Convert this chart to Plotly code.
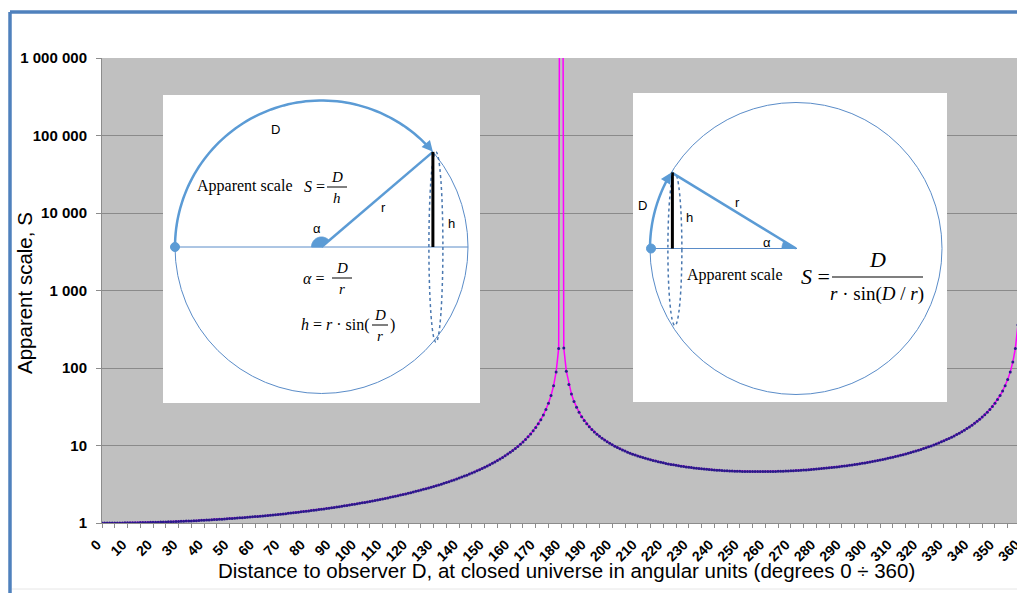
import numpy as np
import plotly.graph_objects as go

# ---------------- data ----------------
degrees = list(range(0, 361))
x_tick_vals = list(range(0, 361, 5))
x_tick_text = [str(v) if v % 10 == 0 else "" for v in x_tick_vals]
y_tick_vals = [1, 10, 100, 1000, 10000, 100000, 1000000]
y_tick_text = ["1", "10", "100", "1 000", "10 000", "100 000", "1 000 000"]

scale_0_90 = [1, 1, 1, 1, 1.001, 1.001, 1.002, 1.002, 1.003, 1.004,
              1.005, 1.006, 1.007, 1.009, 1.01, 1.012, 1.013, 1.015, 1.017, 1.019,
              1.021, 1.023, 1.025, 1.027, 1.03, 1.032, 1.035, 1.038, 1.041, 1.044,
              1.047, 1.051, 1.054, 1.058, 1.061, 1.065, 1.069, 1.073, 1.077, 1.082,
              1.086, 1.091, 1.096, 1.1, 1.106, 1.111, 1.116, 1.122, 1.127, 1.133,
              1.139, 1.145, 1.152, 1.158, 1.165, 1.172, 1.179, 1.186, 1.194, 1.201,
              1.209, 1.217, 1.226, 1.234, 1.243, 1.252, 1.261, 1.27, 1.28, 1.29,
              1.3, 1.311, 1.321, 1.332, 1.344, 1.355, 1.367, 1.379, 1.392, 1.405,
              1.418, 1.431, 1.445, 1.46, 1.474, 1.489, 1.505, 1.521, 1.537, 1.554,
              1.571]
scale_91_180 = [1.588, 1.607, 1.625, 1.645, 1.664, 1.685, 1.706, 1.727, 1.749, 1.772,
                1.796, 1.82, 1.845, 1.871, 1.897, 1.925, 1.953, 1.982, 2.012, 2.043,
                2.075, 2.108, 2.143, 2.178, 2.215, 2.253, 2.292, 2.333, 2.375, 2.418,
                2.464, 2.511, 2.56, 2.611, 2.663, 2.718, 2.775, 2.835, 2.897, 2.962,
                3.029, 3.1, 3.174, 3.251, 3.332, 3.417, 3.506, 3.6, 3.698, 3.801,
                3.91, 4.026, 4.147, 4.276, 4.412, 4.557, 4.711, 4.874, 5.049, 5.236,
                5.436, 5.651, 5.882, 6.131, 6.401, 6.694, 7.013, 7.361, 7.744, 8.165,
                8.631, 9.15, 9.73, 10.38, 11.13, 11.98, 12.96, 14.1, 15.46, 17.09,
                19.08, 21.57, 24.78, 29.05, 35.04, 44.04, 59.03, 89.02, 179, 2.6e16]
scale_181_270 = [181, 91.02, 61.03, 46.04, 37.05, 31.06, 26.78, 23.58, 21.09, 19.1,
                 17.47, 16.12, 14.97, 14, 13.15, 12.41, 11.76, 11.18, 10.67, 10.21,
                 9.789, 9.411, 9.068, 8.754, 8.466, 8.202, 7.958, 7.733, 7.524, 7.33,
                 7.15, 6.982, 6.826, 6.679, 6.542, 6.414, 6.293, 6.18, 6.074, 5.974,
                 5.879, 5.791, 5.707, 5.628, 5.554, 5.483, 5.417, 5.355, 5.296, 5.24,
                 5.188, 5.138, 5.092, 5.048, 5.007, 4.968, 4.932, 4.898, 4.866, 4.837,
                 4.809, 4.784, 4.76, 4.738, 4.718, 4.7, 4.683, 4.668, 4.655, 4.643,
                 4.633, 4.625, 4.617, 4.612, 4.608, 4.605, 4.603, 4.604, 4.605, 4.608,
                 4.612, 4.618, 4.625, 4.633, 4.643, 4.654, 4.666, 4.68, 4.696, 4.712]
scale_271_360 = [4.731, 4.75, 4.771, 4.794, 4.818, 4.844, 4.871, 4.9, 4.93, 4.962,
                 4.996, 5.032, 5.069, 5.108, 5.15, 5.193, 5.238, 5.285, 5.335, 5.386,
                 5.44, 5.497, 5.555, 5.617, 5.681, 5.748, 5.818, 5.891, 5.967, 6.046,
                 6.129, 6.215, 6.306, 6.4, 6.498, 6.601, 6.709, 6.822, 6.94, 7.063,
                 7.192, 7.328, 7.47, 7.619, 7.775, 7.94, 8.112, 8.295, 8.486, 8.689,
                 8.902, 9.128, 9.367, 9.621, 9.889, 10.17, 10.48, 10.8, 11.15, 11.52,
                 11.92, 12.34, 12.8, 13.3, 13.83, 14.42, 15.05, 15.75, 16.51, 17.35,
                 18.28, 19.32, 20.48, 21.78, 23.26, 24.96, 26.92, 29.21, 31.92, 35.18,
                 39.16, 44.14, 50.55, 59.11, 71.09, 89.07, 119.1, 179, 359, 2.6e16]
apparent_scale = scale_0_90 + scale_91_180 + scale_181_270 + scale_271_360

# ---------------- layout helpers (screen pixel -> paper) ----------------
OFF = 8                      # page body margin of the html page
W, H = 1025 - OFF, 593 - OFF
ML, MR, MT, MB = 102 - OFF, 3, 58 - OFF, 70
PW = W - ML - MR
PH = H - MT - MB


def X(x):
    return (x - OFF - ML) / PW


def Y(y):
    return (H - MB - (y - OFF)) / PH


SANS = "Liberation Sans, Arial, sans-serif"
SERIF = "Liberation Serif, Times New Roman, serif"
BLUE = "#5B9BD5"
THIN = "#5A8CC8"
DOT = "#4A78B0"

shapes = []
annotations = []


def line(x0, y0, x1, y1, color, width, layer="above"):
    shapes.append(dict(type="line", xref="paper", yref="paper",
                       x0=X(x0), y0=Y(y0), x1=X(x1), y1=Y(y1),
                       line=dict(color=color, width=width), layer=layer))


def rect(x0, y0, x1, y1, fill):
    shapes.append(dict(type="rect", xref="paper", yref="paper",
                       x0=X(x0), y0=Y(y0), x1=X(x1), y1=Y(y1),
                       fillcolor=fill, line=dict(width=0), layer="above"))


def ellipse(cx, cy, rx, ry, color, width, fill=None, dash=None):
    ln = dict(color=color, width=width)
    if dash:
        ln["dash"] = dash
    d = dict(type="circle", xref="paper", yref="paper",
             x0=X(cx - rx), y0=Y(cy + ry), x1=X(cx + rx), y1=Y(cy - ry),
             line=ln, layer="above")
    if fill:
        d["fillcolor"] = fill
    shapes.append(d)


def arc_points(cx, cy, r, a0, a1, n=80):
    ts = np.radians(np.linspace(a0, a1, n))
    return [(cx + r * np.cos(t), cy - r * np.sin(t)) for t in ts]


def path(points, color, width, fill=None, close=False):
    p = "M " + " L ".join(f"{X(a):.5f},{Y(b):.5f}" for a, b in points)
    if close:
        p += " Z"
    d = dict(type="path", xref="paper", yref="paper", path=p,
             line=dict(color=color, width=width), layer="above")
    if fill:
        d["fillcolor"] = fill
    shapes.append(d)


def text(x, y, s, size, family=SANS, xanchor="center", color="black"):
    annotations.append(dict(xref="paper", yref="paper", x=X(x), y=Y(y),
                            text=s, showarrow=False, xanchor=xanchor,
                            yanchor="middle",
                            font=dict(size=size, family=family, color=color)))


def arrowhead(x, y, dx, dy):
    annotations.append(dict(xref="paper", yref="paper", x=X(x), y=Y(y),
                            text="", showarrow=True, ax=-dx * 9, ay=-dy * 9,
                            arrowhead=2, arrowsize=1.1, arrowwidth=2,
                            arrowcolor=BLUE))


# ---------------- frame ----------------
line(10, 12, 1025, 12, "#4F81BD", 3.5)
line(10, 12, 10, 593, "#4F81BD", 3.5)
line(12, 589, 1025, 589, "#E6E6E6", 1)

# ---------------- left inset ----------------
rect(163, 95, 480, 403, "white")
cx, cy, R = 321.5, 247, 146.5
ellipse(cx, cy, R, R, THIN, 1)
line(175, cy, 468, cy, THIN, 1)
a_end = 40.5
end = (cx + R * np.cos(np.radians(a_end)), cy - R * np.sin(np.radians(a_end)))
path(arc_points(cx, cy, 10, a_end, 180) + [(cx, cy)], BLUE, 1, fill=BLUE, close=True)
ellipse(end[0] + 3, cy, 7, cy - end[1], DOT, 1.5, dash="dot")
path(arc_points(cx, cy, R, 180, a_end + 1.5), BLUE, 2.5)
arrowhead(end[0], end[1], np.sin(np.radians(a_end)), np.cos(np.radians(a_end)))
line(cx, cy, end[0], end[1], BLUE, 2.5)
line(end[0], end[1], end[0], cy, "black", 3)
ellipse(175, cy, 4.5, 4.5, BLUE, 1, fill=BLUE)

text(275, 130, "D", 13)
text(245, 186, "Apparent scale", 16, SERIF)
text(314, 186, "<i>S</i> =", 16, SERIF)
text(337, 177, "<i>D</i>", 15, SERIF)
line(327, 187, 347, 187, "black", 1)
text(337, 198, "<i>h</i>", 15, SERIF)
text(383, 207, "r", 13)
text(451, 223, "h", 13)
text(317, 228, "α", 13)
text(313, 278, "<i>α</i> =", 16, SERIF)
text(342, 268, "<i>D</i>", 15, SERIF)
line(332, 278, 352, 278, "black", 1)
text(342, 289, "<i>r</i>", 15, SERIF)
text(372, 325, "<i>h</i> = <i>r</i> · sin(", 16, SERIF, xanchor="right")
text(380, 315, "<i>D</i>", 15, SERIF)
line(372, 325, 388, 325, "black", 1)
text(380, 336, "<i>r</i>", 15, SERIF)
text(388, 325, ")", 16, SERIF, xanchor="left")

# ---------------- right inset ----------------
rect(633, 93, 947, 402, "white")
cx2, cy2, R2 = 796, 248.5, 146
ellipse(cx2, cy2, R2, R2, THIN, 1)
line(651, cy2, 797, cy2, THIN, 1)
a2 = 148.6
end2 = (cx2 + R2 * np.cos(np.radians(a2)), cy2 - R2 * np.sin(np.radians(a2)))
path(arc_points(cx2, cy2, 14, a2, 180) + [(cx2, cy2)], BLUE, 1, fill=BLUE, close=True)
ellipse(end2[0] + 3.5, cy2 + 1, 7, cy2 - end2[1], DOT, 1.5, dash="dot")
path(arc_points(cx2, cy2, R2, 180, a2 + 1.5), BLUE, 2.5)
arrowhead(end2[0], end2[1], np.sin(np.radians(a2)), np.cos(np.radians(a2)))
line(cx2, cy2, end2[0], end2[1], BLUE, 2.5)
line(end2[0] + 1, end2[1], end2[0] + 1, cy2, "black", 3)
ellipse(651, cy2, 4.5, 4.5, BLUE, 1, fill=BLUE)

text(642, 205, "D", 13)
text(689, 217, "h", 13)
text(737, 202, "r", 13)
text(767, 242, "α", 13)
text(735, 275, "Apparent scale", 16, SERIF)
text(815, 276, "<i>S</i> =", 22, SERIF)
text(877, 259, "<i>D</i>", 22, SERIF)
line(832, 277, 923, 277, "black", 1.2)
text(877, 294, "<i>r</i> · sin(<i>D</i> / <i>r</i>)", 19, SERIF)

# ---------------- axis titles ----------------
annotations.append(dict(xref="paper", yref="paper", x=X(566), y=Y(570),
                        text="Distance to observer D, at closed universe in angular units (degrees 0 ÷ 360)",
                        showarrow=False, xanchor="center", yanchor="middle",
                        font=dict(size=20.5, family=SANS, color="black")))
annotations.append(dict(xref="paper", yref="paper", x=X(24), y=Y(293),
                        text="Apparent scale, S", textangle=-90,
                        showarrow=False, xanchor="center", yanchor="middle",
                        font=dict(size=20.5, family=SANS, color="black")))

# ---------------- figure ----------------
fig = go.Figure()
fig.add_trace(go.Scatter(x=degrees, y=apparent_scale, mode="lines+markers",
                         line=dict(color="#FF00FF", width=1.5),
                         marker=dict(size=3, color="#2A1A8A"),
                         showlegend=False, hoverinfo="x+y"))

fig.update_layout(
    width=W, height=H,
    margin=dict(l=ML, r=MR, t=MT, b=MB, pad=0, autoexpand=False),
    paper_bgcolor="white", plot_bgcolor="#C0C0C0",
    shapes=shapes, annotations=annotations,
    font=dict(family=SANS, color="black"),
    xaxis=dict(range=[0, 360.6], tickmode="array", tickvals=x_tick_vals,
               ticktext=x_tick_text, tickangle=-45, ticks="outside",
               ticklen=4, tickcolor="#8C8C8C", showgrid=False,
               showline=True, linecolor="#8C8C8C", linewidth=1,
               zeroline=False, ticklabeloverflow="allow", automargin=False,
               ticklabelstandoff=3, ticklabelshift=-5,
               tickfont=dict(size=14, family=SANS, color="black", weight="bold")),
    yaxis=dict(type="log", range=[0, 6], tickmode="array",
               tickvals=y_tick_vals, ticktext=y_tick_text, ticks="outside",
               ticklen=5, tickcolor="#8C8C8C", showgrid=True,
               gridcolor="#8A8A8A", gridwidth=1, showline=True,
               linecolor="#8C8C8C", linewidth=1, zeroline=False,
               automargin=False, ticklabelstandoff=6,
               tickfont=dict(size=15, family=SANS, color="black", weight="bold")),
)

fig.write_html("out.html")
